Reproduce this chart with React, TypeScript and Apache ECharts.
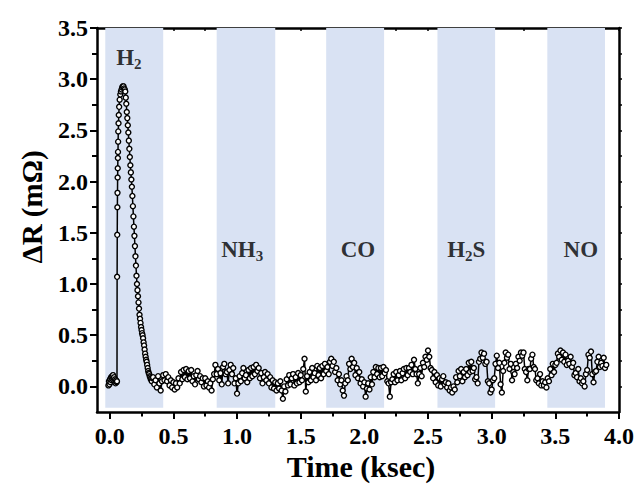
import React, { useEffect, useRef } from "react";
import * as echarts from "echarts";

// H2 pulse region (time in ksec, ΔR in mΩ)
const h2Times = [
  -0.01, -0.006, -0.002, 0.002, 0.006, 0.01, 0.014, 0.018, 0.022, 0.026, 0.03, 0.034, 0.038, 0.042, 0.046, 0.05, 0.054, 0.057,
  0.058, 0.059, 0.06, 0.061, 0.062, 0.063, 0.064, 0.065, 0.066, 0.067, 0.069, 0.071, 0.074, 0.078, 0.083, 0.088, 0.093, 0.098, 0.103, 0.108, 0.113, 0.118,
  0.122, 0.126, 0.13, 0.134, 0.138, 0.142, 0.146, 0.15, 0.154, 0.158, 0.162, 0.166, 0.17, 0.174, 0.178, 0.182, 0.186, 0.19, 0.194, 0.198,
  0.202, 0.206, 0.21, 0.214, 0.218, 0.222, 0.226, 0.23, 0.234, 0.238, 0.242, 0.246, 0.25, 0.254, 0.258, 0.262, 0.266, 0.27, 0.274, 0.278,
  0.282, 0.286, 0.29, 0.294, 0.298, 0.302, 0.306, 0.31, 0.314, 0.318, 0.322, 0.326, 0.33, 0.335,
];
const h2Values = [
  0.01, 0.05, 0.02, 0.07, 0.04, 0.09, 0.06, 0.1, 0.07, 0.11, 0.08, 0.09, 0.05, 0.07, 0.03, 0.06, 0.04, 0.05,
  1.07, 1.48, 1.75, 1.89, 2.04, 2.13, 2.23, 2.29, 2.39, 2.49, 2.57, 2.65, 2.73, 2.8, 2.85, 2.88, 2.9, 2.92, 2.93, 2.93, 2.91, 2.9,
  2.88, 2.82, 2.76, 2.68, 2.62, 2.55, 2.48, 2.4, 2.32, 2.24, 2.16, 2.09, 2.02, 1.95, 1.86, 1.76, 1.66, 1.56, 1.47, 1.37,
  1.27, 1.18, 1.08, 1.0, 0.94, 0.88, 0.82, 0.76, 0.7, 0.66, 0.62, 0.58, 0.55, 0.52, 0.5, 0.47, 0.43, 0.4, 0.36, 0.32,
  0.29, 0.26, 0.24, 0.21, 0.18, 0.15, 0.13, 0.12, 0.1, 0.09, 0.07, 0.08, 0.05, 0.08,
];

// Baseline after the H2 pulse, sampled every 0.01 ksec from 0.34 ksec
const baseStart = 0.34;
const baseStep = 0.01;
const baseValues = [
  0.09, 0.02, 0.06, -0.01, 0.1, 0.03, -0.04, 0.05, 0.11, 0.06,
  0.12, 0.05, 0.09, 0.01, 0.06, -0.01, 0.04, -0.03, 0.03, -0.01,
  0.08, 0.03, 0.14, 0.07, 0.16, 0.09, 0.17, 0.07, 0.15, 0.08,
  0.16, 0.05, 0.1, 0.02, 0.11, 0.15, 0.07, 0.1, 0.04, 0.08,
  0.0, 0.08, 0.01, 0.05, -0.01, 0.03, -0.04, 0.07, 0.12, 0.21,
  0.12, 0.17, 0.06, 0.13, 0.02, 0.19, 0.22, 0.12, 0.14, 0.03,
  0.16, 0.21, 0.12, 0.18, 0.03, 0.08, -0.07, 0.03, 0.1, 0.05,
  0.13, 0.18, 0.08, 0.11, 0.04, 0.16, 0.08, 0.18, 0.1, 0.19,
  0.12, 0.21, 0.15, 0.18, 0.08, 0.13, 0.03, 0.09, 0.14, 0.06,
  0.12, 0.03, 0.09, -0.01, 0.06, -0.02, 0.04, -0.04, 0.03, -0.02,
  0.05, -0.04, -0.12, 0.0, -0.05, 0.07, 0.01, 0.11, 0.02, 0.08,
  0.12, 0.01, 0.09, 0.03, 0.13, 0.04, 0.11, 0.06, 0.17, 0.27,
  -0.05, 0.1, 0.04, 0.14, 0.06, 0.18, 0.09, 0.13, 0.06, 0.2,
  0.11, 0.18, 0.08, 0.2, 0.12, 0.22, 0.15, 0.19, 0.12, 0.24,
  0.27, 0.2, 0.24, 0.14, 0.18, 0.06, 0.12, 0.02, 0.06, -0.04,
  -0.09, 0.03, 0.1, 0.06, 0.22, 0.17, 0.27, 0.19, 0.23, 0.11,
  0.18, 0.08, 0.14, 0.03, 0.07, 0.0, 0.04, -0.1, -0.02, 0.03,
  -0.03, 0.09, 0.02, 0.14, 0.09, 0.19, 0.12, 0.18, 0.09, 0.18,
  0.1, 0.19, 0.13, 0.16, 0.05, 0.03, -0.1, 0.04, 0.07, 0.12,
  0.04, 0.14, 0.06, 0.11, 0.15, 0.06, 0.13, 0.17, 0.08, 0.18,
  0.11, 0.18, 0.14, 0.21, 0.12, 0.26, 0.17, 0.12, 0.03, 0.12,
  0.18, 0.1, 0.23, 0.19, 0.29, 0.26, 0.35, 0.29, 0.18, 0.16,
  0.08, 0.14, 0.04, 0.11, 0.01, 0.08, 0.0, 0.07, 0.1, 0.02,
  0.04, -0.01, 0.03, -0.04, -0.01, -0.06, 0.0, -0.03, 0.09, 0.04,
  0.15, 0.1, 0.17, 0.05, 0.14, 0.09, 0.17, 0.11, 0.23, 0.14,
  0.24, 0.15, 0.18, 0.07, 0.09, 0.03, 0.24, 0.27, 0.33, 0.28,
  0.32, 0.22, 0.24, 0.05, 0.03, -0.06, -0.03, 0.06, 0.08, 0.22,
  0.3, 0.18, 0.23, 0.02, -0.06, 0.15, 0.23, 0.33, 0.28, 0.31,
  0.17, 0.22, 0.06, 0.14, 0.12, 0.22, 0.18, 0.29, 0.25, 0.33,
  0.3, 0.33, 0.17, 0.14, 0.06, 0.17, 0.17, 0.27, 0.31, 0.19,
  0.17, 0.06, 0.08, 0.03, 0.12, 0.01, 0.05, 0.01, 0.04, -0.01,
  0.08, 0.05, 0.17, 0.11, 0.22, 0.14, 0.21, 0.23, 0.32, 0.29,
  0.35, 0.26, 0.33, 0.24, 0.31, 0.21, 0.25, 0.22, 0.29, 0.19,
  0.23, 0.11, 0.13, 0.09, 0.17, 0.05, 0.08, 0.03, 0.05, 0.0,
  0.12, 0.16, 0.31, 0.28, 0.34, 0.12, 0.04, 0.14, 0.15, 0.24,
  0.29, 0.19, 0.23, 0.2, 0.28, 0.18, 0.21,
];

// Gas exposure windows (ksec)
const bandStarts = [-0.035, 0.84, 1.7, 2.574, 3.437];
const bandEnds = [0.42, 1.3, 2.155, 3.027, 3.89];
const gasNames = ["H2", "NH3", "CO", "H2S", "NO"];
const gasRich = ["{m|H}{s|2}", "{m|NH}{s|3}", "{m|CO}", "{m|H}{s|2}{m|S}", "{m|NO}"];
const gasLabelX = [0.15, 1.04, 1.95, 2.8, 3.7];
const gasLabelY = [3.21, 1.34, 1.34, 1.34, 1.34];

const majorX = [0, 0.5, 1, 1.5, 2, 2.5, 3, 3.5, 4];
const minorX = [0.25, 0.75, 1.25, 1.75, 2.25, 2.75, 3.25, 3.75];
const majorY = [0, 0.5, 1, 1.5, 2, 2.5, 3, 3.5];
const minorY = [0.25, 0.75, 1.25, 1.75, 2.25, 2.75, 3.25];

const FONT = "'Liberation Serif', 'Times New Roman', serif";

export default function App() {
  const ref = useRef<HTMLDivElement>(null);
  useEffect(() => {
    if (!ref.current) return;
    const chart = echarts.init(ref.current, undefined, { renderer: "svg" });

    const data: number[][] = [];
    h2Times.forEach((t, i) => data.push([t, h2Values[i]]));
    baseValues.forEach((v, i) => data.push([+(baseStart + i * baseStep).toFixed(3), v]));

    const allX = [...majorX, ...minorX];
    const allY = [...majorY, ...minorY];
    const axisLine = { show: true, onZero: false, lineStyle: { color: "#000", width: 2.5 } };
    const noLine = { show: false, onZero: false };
    const xCommon = { type: "value", min: -0.1, max: 4.0, splitLine: { show: false } };
    const yCommon = { type: "value", min: -0.25, max: 3.5, splitLine: { show: false } };

    chart.setOption({
      animation: false,
      grid: { left: 97, right: 18, top: 28, bottom: 72, containLabel: false },
      xAxis: [
        {
          ...xCommon,
          position: "bottom",
          axisLine,
          axisTick: { show: true, customValues: majorX, length: 7, lineStyle: { color: "#000", width: 2 } },
          axisLabel: {
            show: true,
            customValues: majorX,
            margin: 12,
            formatter: (v: number) => v.toFixed(1),
            fontFamily: FONT,
            fontWeight: "bold",
            fontSize: 24,
            color: "#000",
          },
        },
        {
          ...xCommon,
          position: "bottom",
          axisLine: noLine,
          axisTick: { show: true, customValues: minorX, length: 4.5, lineStyle: { color: "#000", width: 2 } },
          axisLabel: { show: false },
        },
        {
          ...xCommon,
          position: "top",
          axisLine,
          axisTick: { show: true, inside: true, customValues: allX, length: 3, lineStyle: { color: "#000", width: 1.5 } },
          axisLabel: { show: false },
        },
      ],
      yAxis: [
        {
          ...yCommon,
          position: "left",
          axisLine,
          axisTick: { show: true, customValues: majorY, length: 7, lineStyle: { color: "#000", width: 2 } },
          axisLabel: {
            show: true,
            customValues: majorY,
            margin: 9,
            formatter: (v: number) => v.toFixed(1),
            fontFamily: FONT,
            fontWeight: "bold",
            fontSize: 24,
            color: "#000",
          },
        },
        {
          ...yCommon,
          position: "left",
          axisLine: noLine,
          axisTick: { show: true, customValues: minorY, length: 5, lineStyle: { color: "#000", width: 2 } },
          axisLabel: { show: false },
        },
        {
          ...yCommon,
          position: "right",
          axisLine,
          axisTick: { show: true, customValues: allY, length: 3, lineStyle: { color: "#000", width: 1.5 } },
          axisLabel: { show: false },
        },
      ],
      graphic: [
        {
          type: "text",
          x: 361,
          y: 466,
          style: {
            text: "Time (ksec)",
            fontFamily: FONT,
            fontWeight: "bold",
            fontSize: 30,
            fill: "#000",
            align: "center",
            verticalAlign: "middle",
          },
        },
        {
          type: "text",
          x: 32,
          y: 207,
          rotation: Math.PI / 2,
          style: {
            text: "ΔR (mΩ)",
            fontFamily: FONT,
            fontWeight: "bold",
            fontSize: 29,
            fill: "#000",
            align: "center",
            verticalAlign: "middle",
          },
        },
      ],
      series: [
        {
          type: "line",
          xAxisIndex: 0,
          yAxisIndex: 0,
          data: [],
          silent: true,
          markArea: {
            silent: true,
            itemStyle: { color: "#d9e2f3" },
            data: bandStarts.map((s, i) => [
              { xAxis: s, yAxis: -0.208 },
              { xAxis: bandEnds[i], yAxis: 3.5 },
            ]),
          },
        },
        {
          type: "line",
          name: "ΔR",
          xAxisIndex: 0,
          yAxisIndex: 0,
          data,
          symbol: "circle",
          symbolSize: 5,
          showAllSymbol: true,
          lineStyle: { color: "#000", width: 1.5 },
          itemStyle: { color: "#fff", borderColor: "#000", borderWidth: 1.4 },
          z: 3,
        },
        {
          type: "scatter",
          xAxisIndex: 0,
          yAxisIndex: 0,
          symbolSize: 0,
          data: gasNames.map((n, i) => ({ name: n, value: [gasLabelX[i], gasLabelY[i]] })),
          label: {
            show: true,
            position: "inside",
            formatter: (p: any) => gasRich[p.dataIndex],
            rich: {
              m: { fontFamily: FONT, fontWeight: "bold", fontSize: 23, color: "#000", lineHeight: 28, verticalAlign: "middle" },
              s: { fontFamily: FONT, fontWeight: "bold", fontSize: 15, color: "#000", lineHeight: 15, verticalAlign: "bottom" },
            },
          },
          z: 4,
        },
      ],
    });
    return () => chart.dispose();
  }, []);
  return <div ref={ref} style={{ position: "absolute", left: 0, top: 0, width: 637, height: 484 }} />;
}
